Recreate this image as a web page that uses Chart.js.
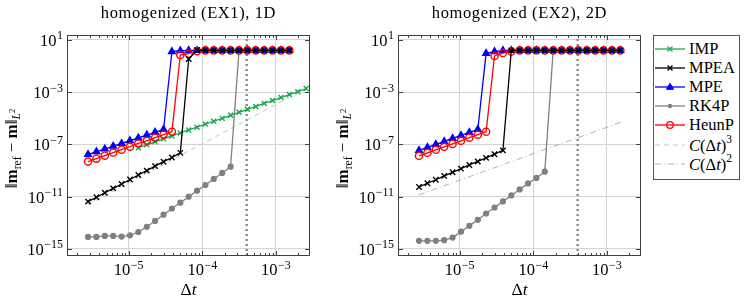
<!DOCTYPE html>
<html>
<head>
<meta charset="utf-8">
<script src="https://cdn.jsdelivr.net/npm/chart.js@4.4.0/dist/chart.umd.min.js"></script>
<style>
  body { margin: 0; background: #fff; width: 747px; height: 301px; overflow: hidden; position: relative;
         font-family: "Liberation Serif", "Times New Roman", serif; }
  canvas { position: absolute; top: 0; }
  #c1 { left: 0; }
  #c2 { left: 331px; }
  #legend { position: absolute; left: 653px; top: 35px; width: 87px; height: 145px; box-sizing: border-box;
            border: 1px solid #555; background: #fff; padding-top: 3px; font-size: 16.5px; color: #000; }
  #legend .row { height: 19.2px; display: flex; align-items: center; }
  #legend svg { margin-left: 1px; margin-right: 4px; flex: none; }
  #legend sup { font-size: 11.5px; position: relative; top: -1px; }
</style>
</head>
<body>
<canvas id="c1" width="330" height="301"></canvas>
<canvas id="c2" width="320" height="301"></canvas>
<div id="legend"></div>
<script>
const FONT = '"Liberation Serif", "Times New Roman", serif';

// time step sizes (shared by both panels)
const dt = [2.80e-6, 3.64e-6, 4.73e-6, 6.15e-6, 8.00e-6, 1.04e-5, 1.35e-5, 1.76e-5, 2.28e-5, 2.97e-5,
            3.86e-5, 5.02e-5, 6.52e-5, 8.48e-5, 1.10e-4, 1.43e-4, 1.86e-4, 2.42e-4, 3.15e-4, 4.09e-4,
            5.32e-4, 6.92e-4, 8.99e-4, 1.17e-3, 1.52e-3, 1.98e-3, 2.57e-3];

// EX1, 1D
const impLeft = [null, null, null, null, null, null, 5.6e-8, 9.5e-8, 1.6e-7, 2.7e-7, 4.5e-7, 7.6e-7, 1.3e-6,
                 2.1e-6, 3.6e-6, 6.0e-6, 1.0e-5, 1.7e-5, 2.9e-5, 4.9e-5, 8.2e-5, 1.4e-4, 2.3e-4, 3.9e-4,
                 6.6e-4, 1.1e-3, 1.9e-3];
const mpeaLeft = [4.2e-12, 9.1e-12, 2.0e-11, 4.4e-11, 9.5e-11, 2.1e-10, 4.6e-10, 1.0e-9, 2.2e-9, 4.8e-9,
                  1.0e-8, 2.3e-8, 0.35, 1.7, 1.6, 1.6, 1.6, 1.6, 1.6, 1.6, 1.6, 1.6, 1.6, 1.6, 1.6];
const mpeLeft = [1.7e-8, 2.8e-8, 4.5e-8, 7.4e-8, 1.2e-7, 2.0e-7, 3.2e-7, 5.3e-7, 8.6e-7, 1.4e-6,
                 1.3, 1.5, 1.6, 1.6, 1.6, 1.6, 1.6, 1.6, 1.6, 1.6, 1.6, 1.6, 1.6, 1.6, 1.6];
const rk4pLeft = [8.3e-15, 8.3e-15, 1.0e-14, 1.0e-14, 8.9e-15, 1.1e-14, 2.0e-14, 5.0e-14, 1.4e-13, 4.2e-13,
                  1.26e-12, 3.5e-12, 1.0e-11, 2.9e-11, 7.9e-11, 2.3e-10, 6.6e-10, 2.0e-9,
                  1.6, 1.6, 1.6, 1.6, 1.6, 1.6, 1.6];
const heunpLeft = [4.9e-9, 8.3e-9, 1.4e-8, 2.4e-8, 4.0e-8, 6.8e-8, 1.2e-7, 1.9e-7, 3.3e-7, 5.6e-7, 9.5e-7,
                   0.7, 0.9, 1.4, 1.6, 1.6, 1.6, 1.6, 1.6, 1.6, 1.6, 1.6, 1.6, 1.6, 1.6];
const cubeRefX = [2.8e-6, 1.52e-3];
const cubeRefY = [2.5e-12, 4.0e-4];

// EX2, 2D
const mpeaRight = [5.6e-11, 1.07e-10, 2.0e-10, 3.9e-10, 7.4e-10, 1.4e-9, 2.7e-9, 5.0e-9, 9.5e-9, 1.8e-8, 3.5e-8,
                   1.6, 1.6, 1.6, 1.6, 1.6, 1.6, 1.6, 1.6, 1.6, 1.6, 1.6, 1.6, 1.6, 1.6];
const mpeRight = [3.5e-8, 5.9e-8, 1.0e-7, 1.7e-7, 2.9e-7, 4.9e-7, 8.3e-7, 1.4e-6, 0.95, 1.3,
                  1.6, 1.6, 1.6, 1.6, 1.6, 1.6, 1.6, 1.6, 1.6, 1.6, 1.6, 1.6, 1.6, 1.6, 1.6];
const rk4pRight = [4.2e-15, 4.2e-15, 4.2e-15, 4.7e-15, 7.4e-15, 2.1e-14, 5.9e-14, 1.7e-13, 5.2e-13, 1.5e-12,
                   4.4e-12, 1.26e-11, 3.6e-11, 1.05e-10, 2.75e-10, 8.3e-10,
                   1.6, 1.6, 1.6, 1.6, 1.6, 1.6, 1.6, 1.6, 1.6];
const heunpRight = [1.35e-8, 2.3e-8, 3.9e-8, 6.6e-8, 1.1e-7, 1.9e-7, 3.3e-7, 5.6e-7, 9.5e-7, 0.6, 1.0, 1.3,
                    1.6, 1.6, 1.6, 1.6, 1.6, 1.6, 1.6, 1.6, 1.6, 1.6, 1.6, 1.6, 1.6];
const squareRefX = [2.8e-6, 1.52e-3];
const squareRefY = [1.4e-11, 4.9e-6];

const stabilityLimit = 4e-4;

// axes
const xMin = 1.45e-6, xMax = 2.9e-3;
const yMin = 2.9e-16, yMax = 24;
const xTicks = [1e-5, 1e-4, 1e-3];
const xTickExps = ['\u22125', '\u22124', '\u22123'];
const yTicks = [1e1, 1e-3, 1e-7, 1e-11, 1e-15];
const yTickExps = ['1', '\u22123', '\u22127', '\u221211', '\u221215'];

const styles = {
    IMP:   { color: '#1aa84f', fill: '#1aa84f', point: 'crossRot', r: 3.5, order: 5 },
    MPEA:  { color: '#000000', fill: '#000000', point: 'crossRot', r: 3.8, order: 1 },
    MPE:   { color: '#0000ff', fill: '#0000ff', point: 'triangle', r: 3.8, order: 3 },
    RK4P:  { color: '#808080', fill: '#808080', point: 'circle', r: 2.4, order: 4 },
    HeunP: { color: '#ff0000', fill: 'rgba(255,0,0,0)', point: 'circle', r: 3.6, order: 2 },
};

function series(vals) {
    return dt.map((x, i) => ({ x, y: vals[i] })).filter(p => p.y != null);
}

function line(label, vals) {
    const st = styles[label];
    return {
        label, data: series(vals), showLine: true,
        borderColor: st.color, backgroundColor: st.fill, borderWidth: 1.3,
        pointStyle: st.point, pointRadius: st.r, pointBorderWidth: 1.4,
        pointBorderColor: st.color, pointBackgroundColor: st.fill, order: st.order,
    };
}

function refLine(xs, ys, dash, color) {
    return {
        data: xs.map((x, i) => ({ x, y: ys[i] })), showLine: true,
        borderColor: color, borderWidth: 0.9, borderDash: dash, pointRadius: 0, order: 9,
    };
}

function limitLine() {
    return {
        data: [{ x: stabilityLimit, y: yMin }, { x: stabilityLimit, y: yMax }], showLine: true,
        borderColor: '#888888', borderWidth: 2.4, borderDash: [2, 3], pointRadius: 0, order: 10,
    };
}

function drawPow(ctx, exp, x, baseY, align) {
    ctx.font = `16.5px ${FONT}`;
    const wb = ctx.measureText('10').width;
    ctx.font = `12px ${FONT}`;
    const we = ctx.measureText(exp).width;
    const x0 = align === 'right' ? x - wb - we - 0.5 : x - (wb + we + 0.5) / 2;
    ctx.textAlign = 'left';
    ctx.textBaseline = 'alphabetic';
    ctx.font = `16.5px ${FONT}`;
    ctx.fillText('10', x0, baseY);
    ctx.font = `12px ${FONT}`;
    ctx.fillText(exp, x0 + wb + 0.5, baseY - 6.5);
}

function drawParts(ctx, parts, cx, baseY) {
    let total = 0;
    parts.forEach(p => { ctx.font = p.f; p.w = ctx.measureText(p.t).width; total += p.w; });
    let xx = cx - total / 2;
    ctx.textAlign = 'left';
    ctx.textBaseline = 'alphabetic';
    parts.forEach(p => { ctx.font = p.f; ctx.fillText(p.t, xx, baseY + (p.dy || 0)); xx += p.w; });
}

const decor = {
    id: 'decor',
    afterDatasetsDraw(chart) {
        const { ctx, chartArea: a, scales: { x, y } } = chart;
        ctx.save();
        ctx.strokeStyle = '#404040';
        ctx.lineWidth = 1;
        ctx.beginPath();
        for (let d = -6; d <= -3; d++) {
            for (let m = 2; m <= 9; m++) {
                const v = m * Math.pow(10, d);
                if (v < xMin || v > xMax) continue;
                const px = Math.round(x.getPixelForValue(v)) + 0.5;
                ctx.moveTo(px, a.bottom); ctx.lineTo(px, a.bottom - 3);
                ctx.moveTo(px, a.top); ctx.lineTo(px, a.top + 3);
            }
        }
        xTicks.forEach(v => {
            const px = Math.round(x.getPixelForValue(v)) + 0.5;
            ctx.moveTo(px, a.bottom); ctx.lineTo(px, a.bottom - 5);
            ctx.moveTo(px, a.top); ctx.lineTo(px, a.top + 5);
        });
        yTicks.forEach(v => {
            const py = Math.round(y.getPixelForValue(v)) + 0.5;
            ctx.moveTo(a.left, py); ctx.lineTo(a.left + 5, py);
            ctx.moveTo(a.right, py); ctx.lineTo(a.right - 5, py);
        });
        ctx.stroke();
        ctx.strokeRect(Math.round(a.left) + 0.5, Math.round(a.top) + 0.5,
                       Math.round(a.width) - 1, Math.round(a.height) - 1);
        ctx.restore();
    },
    afterDraw(chart, args, opts) {
        const { ctx, chartArea: a, scales: { x, y } } = chart;
        ctx.save();
        ctx.fillStyle = '#000';
        xTicks.forEach((v, i) => drawPow(ctx, xTickExps[i], x.getPixelForValue(v), a.bottom + 19, 'center'));
        yTicks.forEach((v, i) => drawPow(ctx, yTickExps[i], a.left - 4, y.getPixelForValue(v) + 6, 'right'));

        ctx.font = `16.5px ${FONT}`;
        ctx.letterSpacing = '0.6px';
        ctx.textAlign = 'center';
        ctx.fillText(opts.title, (a.left + a.right) / 2, 18);
        ctx.letterSpacing = '0px';

        drawParts(ctx, [
            { t: '\u0394', f: `17.5px ${FONT}` },
            { t: 't', f: `italic 17.5px ${FONT}` },
        ], (a.left + a.right) / 2, a.bottom + 39);

        ctx.translate(a.left - 50, (a.top + a.bottom) / 2 + 3);
        ctx.rotate(-Math.PI / 2);
        drawParts(ctx, [
            { t: '\u2016', f: `17px ${FONT}` },
            { t: 'm', f: `bold 17px ${FONT}` },
            { t: 'ref', f: `11.5px ${FONT}`, dy: 3.5 },
            { t: ' \u2212 ', f: `17px ${FONT}` },
            { t: 'm', f: `bold 17px ${FONT}` },
            { t: '\u2016', f: `17px ${FONT}` },
            { t: 'L', f: `italic 11.5px ${FONT}`, dy: 3 },
            { t: '2', f: `8.5px ${FONT}`, dy: -2 },
        ], 0, 0);
        ctx.restore();
    }
};

function makePanel(id, datasets, title, rightPad) {
    return new Chart(document.getElementById(id), {
        type: 'scatter',
        data: { datasets },
        options: {
            responsive: false,
            animation: false,
            events: [],
            layout: { padding: { top: 35, left: 0, right: rightPad, bottom: 0 } },
            plugins: { legend: { display: false }, tooltip: { enabled: false }, decor: { title } },
            elements: { line: { tension: 0 } },
            scales: {
                x: {
                    type: 'logarithmic', min: xMin, max: xMax,
                    afterFit: s => { s.height = 45; },
                    afterBuildTicks: s => { s.ticks = xTicks.map(v => ({ value: v })); },
                    ticks: { display: false },
                    grid: { color: '#d4d4d4', lineWidth: 1, drawTicks: false },
                    border: { display: false },
                },
                y: {
                    type: 'logarithmic', min: yMin, max: yMax,
                    afterFit: s => { s.width = 67; },
                    afterBuildTicks: s => { s.ticks = yTicks.map(v => ({ value: v })); },
                    ticks: { display: false },
                    grid: { color: '#d4d4d4', lineWidth: 1, drawTicks: false },
                    border: { display: false },
                }
            }
        },
        plugins: [decor]
    });
}

makePanel('c1', [
    line('IMP', impLeft),
    line('MPEA', mpeaLeft),
    line('MPE', mpeLeft),
    line('RK4P', rk4pLeft),
    line('HeunP', heunpLeft),
    refLine(cubeRefX, cubeRefY, [5, 4], '#bdbdbd'),
    limitLine(),
], 'homogenized (EX1), 1D', 20);

makePanel('c2', [
    line('MPEA', mpeaRight),
    line('MPE', mpeRight),
    line('RK4P', rk4pRight),
    line('HeunP', heunpRight),
    refLine(squareRefX, squareRefY, [6, 3, 1, 3], '#a8a8a8'),
    limitLine(),
], 'homogenized (EX2), 2D', 10);

// legend
function markerSvg(st) {
    const c = st.color;
    if (st.point === 'crossRot') return `<path d="M12.5 3.5 L17.5 8.5 M12.5 8.5 L17.5 3.5" stroke="${c}" stroke-width="1.3"/>`;
    if (st.point === 'triangle') return `<polygon points="15,2.2 18.5,8.3 11.5,8.3" fill="${c}" stroke="${c}" stroke-width="1"/>`;
    if (st.fill.startsWith('rgba')) return `<circle cx="15" cy="6" r="3.3" fill="none" stroke="${c}" stroke-width="1.3"/>`;
    return `<circle cx="15" cy="6" r="2.2" fill="${c}"/>`;
}
const legendNames = ['IMP', 'MPEA', 'MPE', 'RK4P', 'HeunP'];
let html = legendNames.map(n => {
    const st = styles[n];
    return `<div class="row"><svg width="30" height="12"><line x1="0" y1="6" x2="30" y2="6" stroke="${st.color}" stroke-width="1.3"/>${markerSvg(st)}</svg><span>${n}</span></div>`;
}).join('');
html += `<div class="row"><svg width="30" height="12"><line x1="0" y1="6" x2="30" y2="6" stroke="#bdbdbd" stroke-width="0.9" stroke-dasharray="5 4"/></svg><span><i>C</i>(\u0394<i>t</i>)<sup>3</sup></span></div>`;
html += `<div class="row"><svg width="30" height="12"><line x1="0" y1="6" x2="30" y2="6" stroke="#a8a8a8" stroke-width="0.9" stroke-dasharray="6 3 1 3"/></svg><span><i>C</i>(\u0394<i>t</i>)<sup>2</sup></span></div>`;
document.getElementById('legend').innerHTML = html;
</script>
</body>
</html>
